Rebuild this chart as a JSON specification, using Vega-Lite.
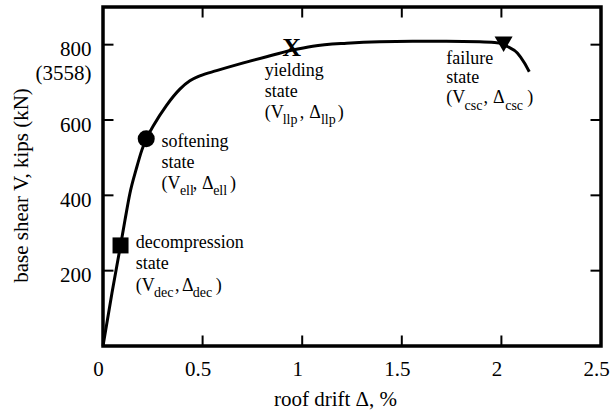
{
  "$schema": "https://vega.github.io/schema/vega-lite/v6.json",
  "width": 498,
  "height": 339,
  "autosize": {"type": "none"},
  "padding": {"left": 103, "top": 7, "right": 11, "bottom": 67},
  "background": "white",
  "config": {
    "view": {"stroke": "black", "strokeWidth": 3.5},
    "font": "Liberation Serif",
    "axis": {
      "labelFont": "Liberation Serif",
      "labelFontSize": 21,
      "labelColor": "black",
      "titleFont": "Liberation Serif",
      "titleFontSize": 21,
      "titleFontWeight": "normal",
      "titleColor": "black",
      "ticks": false,
      "domain": false,
      "grid": false,
      "labelFlush": false,
      "labelOverlap": false
    }
  },
  "datasets": {
    "curve": [
      {"x": 0, "y": 0}, {"x": 0.045, "y": 141}, {"x": 0.088, "y": 267}, {"x": 0.11, "y": 333},
      {"x": 0.135, "y": 405}, {"x": 0.167, "y": 470}, {"x": 0.195, "y": 520}, {"x": 0.217, "y": 550},
      {"x": 0.252, "y": 584}, {"x": 0.319, "y": 639}, {"x": 0.386, "y": 682}, {"x": 0.436, "y": 704},
      {"x": 0.486, "y": 717}, {"x": 0.57, "y": 731}, {"x": 0.687, "y": 749}, {"x": 0.821, "y": 768},
      {"x": 0.947, "y": 785}, {"x": 1.053, "y": 796}, {"x": 1.223, "y": 804}, {"x": 1.388, "y": 808},
      {"x": 1.554, "y": 809}, {"x": 1.724, "y": 809}, {"x": 1.89, "y": 808}, {"x": 1.965, "y": 806},
      {"x": 2.005, "y": 802}, {"x": 2.03, "y": 795}, {"x": 2.08, "y": 778}, {"x": 2.115, "y": 752},
      {"x": 2.14, "y": 728}
    ],
    "xticks": [{"x": 0.5}, {"x": 1}, {"x": 1.5}, {"x": 2}],
    "yticks": [{"y": 200}, {"y": 400}, {"y": 600}, {"y": 800}],
    "markers": [
      {"state": "decompression", "x": 0.088, "y": 267},
      {"state": "softening", "x": 0.217, "y": 550},
      {"state": "failure", "x": 2.011, "y": 801}
    ],
    "yield": [{"text": "X", "x": 0.947, "y": 790}],
    "labels": [
      {"text": "decompression", "x": 0.165, "y": 259},
      {"text": "state", "x": 0.165, "y": 204},
      {"text": "(V", "x": 0.165, "y": 147},
      {"text": ",", "x": 0.361, "y": 147},
      {"text": "Δ", "x": 0.397, "y": 147},
      {"text": ")", "x": 0.566, "y": 147},
      {"text": "softening", "x": 0.294, "y": 527},
      {"text": "state", "x": 0.294, "y": 472},
      {"text": "(V", "x": 0.294, "y": 417},
      {"text": ",", "x": 0.451, "y": 417},
      {"text": "Δ", "x": 0.497, "y": 417},
      {"text": ")", "x": 0.637, "y": 417},
      {"text": "yielding", "x": 0.812, "y": 716},
      {"text": "state", "x": 0.812, "y": 661},
      {"text": "(V", "x": 0.812, "y": 606},
      {"text": ",", "x": 0.988, "y": 606},
      {"text": "Δ", "x": 1.035, "y": 606},
      {"text": ")", "x": 1.178, "y": 606},
      {"text": "failure", "x": 1.723, "y": 750},
      {"text": "state", "x": 1.723, "y": 697},
      {"text": "(V", "x": 1.723, "y": 644},
      {"text": ",", "x": 1.91, "y": 644},
      {"text": "Δ", "x": 1.958, "y": 644},
      {"text": ")", "x": 2.13, "y": 644}
    ],
    "subs": [
      {"text": "dec", "x": 0.256, "y": 129},
      {"text": "dec", "x": 0.451, "y": 129},
      {"text": "ell", "x": 0.386, "y": 400},
      {"text": "ell", "x": 0.553, "y": 400},
      {"text": "llp", "x": 0.902, "y": 589},
      {"text": "llp", "x": 1.094, "y": 589},
      {"text": "csc", "x": 1.815, "y": 626},
      {"text": "csc", "x": 2.019, "y": 626}
    ]
  },
  "layer": [
    {
      "data": {"name": "curve"},
      "mark": {"type": "line", "color": "black", "strokeWidth": 3, "interpolate": "monotone"},
      "encoding": {
        "x": {"field": "x", "type": "quantitative", "scale": {"domain": [0, 2.5], "nice": false},
          "axis": {"orient": "bottom", "values": [0, 0.5, 1, 1.5, 2, 2.5], "format": "~g", "labelPadding": 12, "labelOffset": -5,
            "title": "roof drift Δ, %", "titleX": 232, "titleY": 59, "titleAlign": "center", "titleBaseline": "alphabetic"}},
        "y": {"field": "y", "type": "quantitative", "scale": {"domain": [0, 900], "nice": false},
          "axis": {"orient": "left", "values": [200, 400, 600, 800], "labelPadding": 12, "labelOffset": 5, "labelLineHeight": 24,
            "labelExpr": "datum.value == 800 ? ['800', '(3558)'] : datum.label",
            "title": "base shear V, kips (kN)", "titleX": -76, "titleY": 178, "titleAlign": "center", "titleBaseline": "alphabetic", "titleAngle": -90}}
      }
    },
    {
      "data": {"name": "xticks"},
      "mark": {"type": "point", "shape": "M0,-1L0,1", "filled": false, "color": "black", "opacity": 1, "strokeWidth": 2, "size": 110},
      "encoding": {
        "x": {"field": "x", "type": "quantitative"},
        "y": {"datum": 14, "type": "quantitative"}
      }
    },
    {
      "data": {"name": "xticks"},
      "mark": {"type": "point", "shape": "M0,-1L0,1", "filled": false, "color": "black", "opacity": 1, "strokeWidth": 2, "size": 110},
      "encoding": {
        "x": {"field": "x", "type": "quantitative"},
        "y": {"datum": 886, "type": "quantitative"}
      }
    },
    {
      "data": {"name": "yticks"},
      "mark": {"type": "point", "shape": "M-1,0L1,0", "filled": false, "color": "black", "opacity": 1, "strokeWidth": 2, "size": 110},
      "encoding": {
        "y": {"field": "y", "type": "quantitative"},
        "x": {"datum": 0.0263, "type": "quantitative"}
      }
    },
    {
      "data": {"name": "yticks"},
      "mark": {"type": "point", "shape": "M-1,0L1,0", "filled": false, "color": "black", "opacity": 1, "strokeWidth": 2, "size": 110},
      "encoding": {
        "y": {"field": "y", "type": "quantitative"},
        "x": {"datum": 2.4737, "type": "quantitative"}
      }
    },
    {
      "data": {"name": "markers"},
      "mark": {"type": "point", "filled": true, "color": "black", "opacity": 1},
      "encoding": {
        "x": {"field": "x", "type": "quantitative"},
        "y": {"field": "y", "type": "quantitative"},
        "shape": {"field": "state", "type": "nominal", "scale": {"domain": ["decompression", "softening", "failure"], "range": ["square", "circle", "triangle-down"]}, "legend": null},
        "size": {"field": "state", "type": "nominal", "scale": {"domain": ["decompression", "softening", "failure"], "range": [256, 324, 400]}, "legend": null}
      }
    },
    {
      "data": {"name": "yield"},
      "mark": {"type": "text", "font": "Liberation Serif", "fontWeight": "bold", "fontSize": 26, "align": "center", "baseline": "middle", "color": "black"},
      "encoding": {
        "x": {"field": "x", "type": "quantitative"},
        "y": {"field": "y", "type": "quantitative"},
        "text": {"field": "text"}
      }
    },
    {
      "data": {"name": "labels"},
      "mark": {"type": "text", "font": "Liberation Serif", "fontSize": 18, "align": "left", "baseline": "alphabetic", "color": "black"},
      "encoding": {
        "x": {"field": "x", "type": "quantitative"},
        "y": {"field": "y", "type": "quantitative"},
        "text": {"field": "text"}
      }
    },
    {
      "data": {"name": "subs"},
      "mark": {"type": "text", "font": "Liberation Serif", "fontSize": 14, "align": "left", "baseline": "alphabetic", "color": "black"},
      "encoding": {
        "x": {"field": "x", "type": "quantitative"},
        "y": {"field": "y", "type": "quantitative"},
        "text": {"field": "text"}
      }
    }
  ]
}
